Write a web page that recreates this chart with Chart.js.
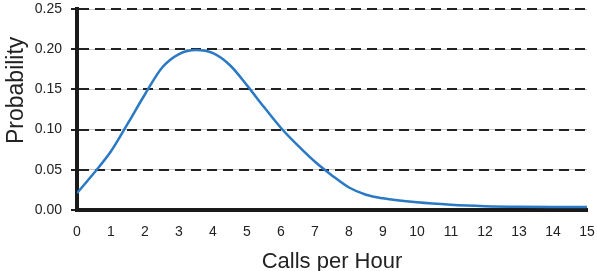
<!DOCTYPE html>
<html>
<head>
<meta charset="utf-8">
<script src="https://cdn.jsdelivr.net/npm/chart.js@4/dist/chart.umd.min.js"></script>
<style>
html,body{margin:0;padding:0;background:#fff;}
#c{display:block;}
</style>
</head>
<body>
<canvas id="c" width="597" height="271"></canvas>
<script>
// Data
const callsPerHour = [0, 0.5, 1, 1.5, 2, 2.5, 3, 3.5, 4, 4.5, 5, 5.5, 6, 6.5, 7, 7.5, 8, 8.5, 9, 10, 11, 12, 13, 14, 15];
const probability = [0.021, 0.046, 0.073, 0.108, 0.144, 0.177, 0.194, 0.199, 0.195, 0.180, 0.155, 0.128, 0.102, 0.080, 0.060, 0.043, 0.028, 0.019, 0.0145, 0.0095, 0.0065, 0.0048, 0.004, 0.0037, 0.0037];
const xTickValues = [0, 1, 2, 3, 4, 5, 6, 7, 8, 9, 10, 11, 12, 13, 14, 15];
const yTickValues = [0, 0.05, 0.10, 0.15, 0.20, 0.25];
const xTitle = 'Calls per Hour';
const yTitle = '      Probability';

const points = callsPerHour.map((x, i) => ({x: x, y: probability[i]}));
const FONT = "'Liberation Sans', Arial, Helvetica, sans-serif";

new Chart(document.getElementById('c'), {
  type: 'line',
  data: {
    datasets: [{
      data: points,
      borderColor: 'rgb(41,121,196)',
      borderWidth: 2.5,
      pointRadius: 0,
      fill: false,
      cubicInterpolationMode: 'monotone'
    }]
  },
  options: {
    responsive: false,
    animation: false,
    devicePixelRatio: 1,
    layout: {padding: {top: 9, right: 10, left: 0, bottom: 0}},
    plugins: {legend: {display: false}, tooltip: {enabled: false}},
    scales: {
      x: {
        type: 'linear',
        min: 0, max: 15,
        afterBuildTicks: s => { s.ticks = xTickValues.map(v => ({value: v})); },
        afterFit: s => { s.height = 61; s.paddingRight = 0; s.paddingLeft = 0; },
        grid: {drawOnChartArea: false, drawTicks: false},
        border: {display: true, color: '#1a1a1a', width: 4},
        ticks: {
          color: '#222', padding: 14, maxRotation: 0, autoSkip: false,
          font: {family: FONT, size: 14},
          callback: v => String(v)
        },
        title: {display: true, text: xTitle, color: '#222', font: {family: FONT, size: 22, lineHeight: 1}, padding: {top: 0, bottom: -2}}
      },
      yg: {
        type: 'linear', position: 'left', min: 0, max: 0.25,
        afterBuildTicks: s => { s.ticks = yTickValues.map(v => ({value: v})); },
        afterFit: s => { s.width = 0; s.paddingTop = 0; s.paddingBottom = 0; },
        ticks: {display: false},
        border: {display: false},
        grid: {color: '#c4c4c4', lineWidth: 1, drawTicks: false, z: -1}
      },
      y: {
        type: 'linear', position: 'left', min: 0, max: 0.25,
        afterBuildTicks: s => { s.ticks = yTickValues.map(v => ({value: v})); },
        afterFit: s => { s.width = 77; s.paddingTop = 0; s.paddingBottom = 0; },
        grid: {color: '#222', lineWidth: 2, drawTicks: true, tickLength: 6, tickColor: '#222', tickWidth: 2},
        border: {display: true, color: '#1a1a1a', width: 4, dash: [10, 6]},
        ticks: {
          color: '#222', padding: 9,
          font: {family: FONT, size: 14},
          callback: v => Number(v).toFixed(2)
        },
        title: {display: true, text: yTitle, color: '#222', font: {family: FONT, size: 23, lineHeight: 1}, padding: {top: 5, bottom: 0}}
      }
    }
  }
});
</script>
</body>
</html>
